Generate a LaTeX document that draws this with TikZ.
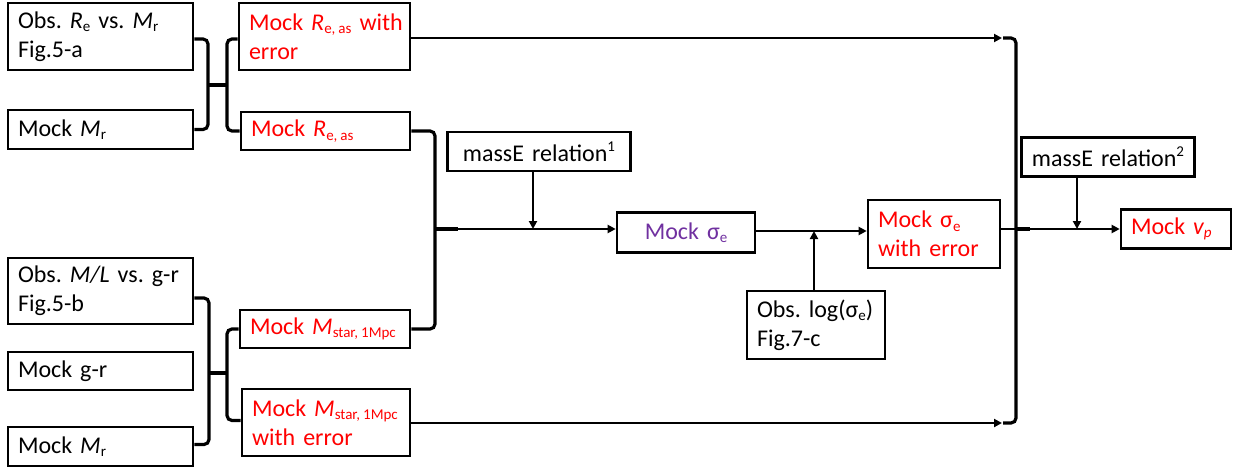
\documentclass[tikz,border=0pt]{standalone}
\usepackage{fontspec}
\setmainfont{Carlito}
\usetikzlibrary{arrows.meta}
\definecolor{mockred}{RGB}{255,0,0}
\definecolor{mockpurple}{RGB}{112,48,160}
% small lowered / raised indices in the text font
\newcommand\lsub[1]{\raisebox{-0.3ex}{\fontsize{15}{15}\selectfont #1}}
\newcommand\lsup[1]{\raisebox{0.85ex}{\fontsize{15}{15}\selectfont #1}}
\newcommand\isp{\kern3pt}
\frenchspacing

\begin{document}
\begin{tikzpicture}[x=1pt,y=-1pt,
  box/.style={draw, line width=2.6pt, inner xsep=10pt, inner ysep=0pt,
    align=left, font=\fontsize{24}{29}\selectfont\frenchspacing},
  cbox/.style={box, align=center},
  red/.style={text=mockred},
  conn/.style={line width=2.3pt},
  arr/.style={conn, -{Triangle[length=8pt,width=8pt]}},
  brk/.style={line width=3.2pt, rounded corners=5pt},
  tick/.style={line width=4.5pt}
]
\useasboundingbox (0,0) rectangle (1239,471);

% ---- inputs on the left
\node[box, text width=165, minimum height=67] (obsRe) at (100.5,36.5)
  {\mbox{Obs. \textit{R}\lsub{e} vs. \textit{M}\lsub{r}}\\Fig.5-a};
\node[box, text width=165, minimum height=39] (mockMrA) at (100.5,129.5)
  {Mock \textit{M}\lsub{r}};
\node[box, text width=165, minimum height=66] (obsML) at (100.5,291)
  {\mbox{Obs. \textit{M/L} vs. g-r}\\Fig.5-b};
\node[box, text width=165, minimum height=38] (mockGr) at (100.5,371)
  {Mock g-r};
\node[box, text width=165, minimum height=39] (mockMrB) at (100.5,446.5)
  {Mock \textit{M}\lsub{r}};

% ---- mock size and stellar mass
\node[box, red, text width=151, minimum height=67] (reErr) at (324.5,36.5)
  {\mbox{Mock \textit{R}\lsub{e,\isp as} with}\\error};
\node[box, red, text width=149, minimum height=38] (reAs) at (325.5,131)
  {\mbox{Mock \textit{R}\lsub{e,\isp as}}};
\node[box, red, text width=150, minimum height=38] (mStar) at (325,329)
  {\mbox{Mock \textit{M}\lsub{star,\isp 1Mpc}}};
\node[box, red, text width=148, minimum height=67] (mStarErr) at (326,422.5)
  {\mbox{Mock \textit{M}\lsub{star,\isp 1Mpc}}\\with error};

% ---- velocity dispersion
\node[cbox, text width=163, minimum height=39] (massA) at (539,151.5)
  {massE relation\lsup{1}};
\node[cbox, text width=118, minimum height=40, text=mockpurple] (sig) at (686,232.5)
  {Mock σ\lsub{e}};
\node[box, text width=118, minimum height=68] (obsSig) at (816,325)
  {\mbox{Obs. log(σ\lsub{e})}\\Fig.7-c};
\node[box, red, text width=112, minimum height=68] (sigErr) at (934,234)
  {Mock σ\lsub{e}\\\mbox{with error}};

% ---- peculiar velocity
\node[cbox, text width=153, minimum height=39] (massB) at (1108,157)
  {massE relation\lsup{2}};
\node[box, red, text width=90, minimum height=39] (vp) at (1176,229)
  {Mock \textit{v\lsub{p}}};

% bracket columns and junctions
\coordinate (bA) at (208,0);
\coordinate (bB) at (227,0);
\coordinate (jA) at (208,85);
\coordinate (jAr) at (227,85);
\coordinate (bC) at (209,0);
\coordinate (bD) at (227,0);
\coordinate (jB) at (209,373);
\coordinate (jBr) at (227,373);
\coordinate (bM) at (435,0);
\coordinate (jM) at (435,229);
\coordinate (jMr) at (458,229);
\coordinate (jJ) at (533,229);
\coordinate (rTop) at (1002,38);
\coordinate (rBot) at (1002,423);
\coordinate (rMid) at (1016,229);
\coordinate (rMidr) at (1030,229);
\coordinate (jN) at (1077,229);

% upper left brace pair
\draw[brk] ([yshift=-2.5pt]obsRe.east) -- ([yshift=-2.5pt]obsRe.east -| bA)
  -- (mockMrA.east -| bA) -- (mockMrA.east);
\draw[tick] (jA) -- (jAr);
\draw[brk] ([yshift=-2.5pt]reErr.west) -- ([yshift=-2.5pt]reErr.west -| bB)
  -- (reAs.west -| bB) -- (reAs.west);

% lower left brace pair
\draw[brk] ([yshift=-7pt]obsML.east) -- ([yshift=-7pt]obsML.east -| bC)
  -- ([yshift=2pt]mockMrB.east -| bC) -- ([yshift=2pt]mockMrB.east);
\draw[tick] (jB) -- (jBr);
\draw[brk] (mStar.west) -- (mStar.west -| bD)
  -- ([yshift=2pt]mStarErr.west -| bD) -- ([yshift=2pt]mStarErr.west);

% middle brace into the dispersion step
\draw[brk] (reAs.east) -- (reAs.east -| bM) -- (mStar.east -| bM) -- (mStar.east);
\draw[tick] (jM) -- (jMr);
\draw[arr] (jMr) -- (jMr -| sig.west);
\draw[arr] (massA.south -| jJ) -- (jJ);
\draw[arr] ([yshift=1.5pt]sig.east) -- ([yshift=1.5pt]sig.east -| sigErr.west);
\draw[arr] ([xshift=-2pt]obsSig.north) -- ([xshift=-2pt,yshift=1.5pt]obsSig.north |- sig.east);

% long runs into the right brace
\draw[arr] (reErr.east |- rTop) -- (rTop);
\draw[arr] (mStarErr.east |- rBot) -- (rBot);
\draw[brk] ([xshift=1pt]rTop) -- (rTop -| rMid) -- (rBot -| rMid) -- ([xshift=1pt]rBot);
\draw[conn] (sigErr.east |- rMid) -- (rMid);
\draw[tick] (rMid) -- (rMidr);
\draw[arr] (rMidr) -- (rMidr -| vp.west);
\draw[arr] (massB.south -| jN) -- (jN);
\end{tikzpicture}
\end{document}
